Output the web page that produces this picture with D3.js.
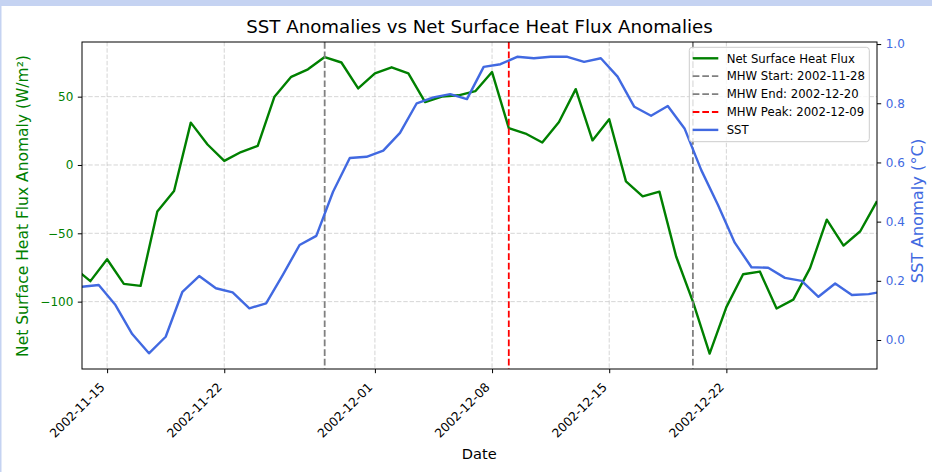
<!DOCTYPE html>
<html><head><meta charset="utf-8">
<script src="https://cdn.jsdelivr.net/npm/d3@7"></script>
<style>
body{margin:0;background:#fff}
svg{display:block;font-family:"DejaVu Sans",sans-serif}
</style>
</head><body><svg id="chart" width="932" height="472"></svg>
<script>
// ---------------- data ----------------
const fluxStart = "2002-11-13T00";        // daily values, midnight
const fluxValues = [-75, -85, -69, -87, -88.5, -34, -19, 31, 15, 3, 9.5, 14, 50, 64.5, 70, 79,
  75, 56, 67, 71.5, 67, 46, 50, 51, 54, 68, 27, 23, 16.5, 31.5, 55.5, 18, 33.5,
  -12, -23, -19.5, -67, -100, -138, -104, -80, -78, -105, -98.5, -75.5, -40, -59, -48.5, -26.5];
const sstStart = "2002-11-13T12";         // daily values, noon
const sstValues = [0.180, 0.186, 0.118, 0.020, -0.045, 0.011, 0.163, 0.216, 0.175, 0.161, 0.107,
  0.124, 0.220, 0.321, 0.352, 0.501, 0.615, 0.619, 0.640, 0.700, 0.800, 0.820, 0.831, 0.814,
  0.923, 0.932, 0.957, 0.952, 0.957, 0.957, 0.940, 0.952, 0.890, 0.788, 0.758, 0.791, 0.715,
  0.574, 0.456, 0.329, 0.246, 0.244, 0.210, 0.200, 0.146, 0.191, 0.152, 0.155, 0.165];
const xTickLabels = ["2002-11-15", "2002-11-22", "2002-12-01", "2002-12-08", "2002-12-15", "2002-12-22"];
const fluxTicks = [-100, -50, 0, 50];
const sstTicks = [0.0, 0.2, 0.4, 0.6, 0.8, 1.0];
const eventLabels = ["MHW Start: 2002-11-28", "MHW End: 2002-12-20", "MHW Peak: 2002-12-09"];
const eventDates = ["2002-11-28", "2002-12-20", "2002-12-09"];
const xDomain = ["2002-11-13T12", "2002-12-31T00"];
const fluxDomain = [-149.3, 90.0];
const sstDomain = [-0.098, 1.007];

// ---------------- helpers ----------------
function parse(s) {
  const [d, t] = s.split("T");
  const [Y, M, D] = d.split("-").map(Number);
  return new Date(Date.UTC(Y, M - 1, D, t ? +t : 0));
}
const fluxData = fluxValues.map((v, i) => ({ date: d3.utcDay.offset(parse(fluxStart), i), v }));
const sstData = sstValues.map((v, i) => ({ date: d3.utcDay.offset(parse(sstStart), i), v }));

const W = 932, H = 472;
const m = { left: 82, right: 877, top: 42, bottom: 369 };
const svg = d3.select("#chart");

const GREEN = "#008000", BLUE = "#4169e1";
const eventColors = ["#808080", "#808080", "#ff0000"];

// background & frame from screenshot
svg.append("rect").attr("width", W).attr("height", H).attr("fill", "#fff");
svg.append("rect").attr("width", W).attr("height", 6).attr("fill", "#c5d3f2");
svg.append("rect").attr("width", 1.5).attr("height", H).attr("fill", "#c5d3f2");

const x = d3.scaleUtc().domain(xDomain.map(parse)).range([m.left, m.right]);
const yL = d3.scaleLinear().domain(fluxDomain).range([m.bottom, m.top]);
const yR = d3.scaleLinear().domain(sstDomain).range([m.bottom, m.top]);

svg.append("defs").append("clipPath").attr("id", "clip")
  .append("rect").attr("x", m.left).attr("y", m.top)
  .attr("width", m.right - m.left).attr("height", m.bottom - m.top);

// grid
const grid = svg.append("g").attr("stroke", "#b0b0b0").attr("stroke-opacity", 0.6)
  .attr("stroke-width", 0.9).attr("stroke-dasharray", "4.4,1.9");
grid.selectAll("line.v").data(xTickLabels.map(parse)).join("line")
  .attr("x1", d => x(d)).attr("x2", d => x(d)).attr("y1", m.top).attr("y2", m.bottom);
grid.selectAll("line.h").data(fluxTicks).join("line")
  .attr("x1", m.left).attr("x2", m.right).attr("y1", d => yL(d)).attr("y2", d => yL(d));

const plot = svg.append("g").attr("clip-path", "url(#clip)");

// flux line
plot.append("path").datum(fluxData)
  .attr("fill", "none").attr("stroke", GREEN).attr("stroke-width", 2.4)
  .attr("stroke-linejoin", "round")
  .attr("d", d3.line().x(d => x(d.date)).y(d => yL(d.v)));

// event lines
eventDates.forEach((d, i) => {
  plot.append("line")
    .attr("x1", x(parse(d))).attr("x2", x(parse(d)))
    .attr("y1", m.top).attr("y2", m.bottom)
    .attr("stroke", eventColors[i]).attr("stroke-width", 1.8)
    .attr("stroke-dasharray", "6.7,2.9");
});

// sst line
plot.append("path").datum(sstData)
  .attr("fill", "none").attr("stroke", BLUE).attr("stroke-width", 2.4)
  .attr("stroke-linejoin", "round")
  .attr("d", d3.line().x(d => x(d.date)).y(d => yR(d.v)));

// frame
svg.append("rect").attr("x", m.left).attr("y", m.top)
  .attr("width", m.right - m.left).attr("height", m.bottom - m.top)
  .attr("fill", "none").attr("stroke", "#000").attr("stroke-width", 1);

// axes
const xAxis = svg.append("g").attr("transform", `translate(0,${m.bottom})`)
  .call(d3.axisBottom(x).tickValues(xTickLabels.map(parse))
    .tickFormat(d3.utcFormat("%Y-%m-%d")).tickSize(4.2).tickSizeOuter(0));
xAxis.select(".domain").remove();
xAxis.selectAll("text")
  .attr("font-size", 12.3).attr("font-family", "DejaVu Sans").attr("fill", "#000")
  .attr("text-anchor", "end").attr("x", 0).attr("y", 0).attr("dy", 0)
  .attr("transform", "translate(-2,19) rotate(-45)");

const yAxisL = svg.append("g").attr("transform", `translate(${m.left},0)`)
  .call(d3.axisLeft(yL).tickValues(fluxTicks).tickSize(4.2).tickPadding(4.5).tickSizeOuter(0));
yAxisL.select(".domain").remove();
yAxisL.selectAll("text").attr("font-size", 12).attr("font-family", "DejaVu Sans").attr("fill", GREEN);

const yAxisR = svg.append("g").attr("transform", `translate(${m.right},0)`)
  .call(d3.axisRight(yR).tickValues(sstTicks).tickFormat(d3.format(".1f"))
    .tickSize(4.2).tickPadding(4.5).tickSizeOuter(0));
yAxisR.select(".domain").remove();
yAxisR.selectAll("text").attr("font-size", 12).attr("font-family", "DejaVu Sans").attr("fill", BLUE);

// labels
svg.append("text").attr("x", (m.left + m.right) / 2).attr("y", 33)
  .attr("text-anchor", "middle").attr("font-size", 18.2).attr("fill", "#000")
  .text("SST Anomalies vs Net Surface Heat Flux Anomalies");
svg.append("text").attr("x", 479.2).attr("y", 459)
  .attr("text-anchor", "middle").attr("font-size", 14.6).attr("fill", "#000").text("Date");
svg.append("text").attr("transform", "translate(28.3,206) rotate(-90)")
  .attr("text-anchor", "middle").attr("font-size", 15.5).attr("fill", GREEN)
  .text("Net Surface Heat Flux Anomaly (W/m²)");
svg.append("text").attr("transform", "translate(923,211) rotate(-90)")
  .attr("text-anchor", "middle").attr("font-size", 16.3).attr("fill", BLUE)
  .text("SST Anomaly (°C)");

// legend
const legendItems = [
  { label: "Net Surface Heat Flux", color: GREEN, dash: null },
  { label: eventLabels[0], color: eventColors[0], dash: "6.7,2.9" },
  { label: eventLabels[1], color: eventColors[1], dash: "6.7,2.9" },
  { label: eventLabels[2], color: eventColors[2], dash: "6.7,2.9" },
  { label: "SST", color: BLUE, dash: null }
];
const lg = svg.append("g").attr("transform", "translate(689.3,47.3)");
lg.append("rect").attr("width", 180).attr("height", 94.4).attr("rx", 3)
  .attr("fill", "#fff").attr("fill-opacity", 0.8).attr("stroke", "#cccccc").attr("stroke-width", 1);
legendItems.forEach((it, i) => {
  const yy = 11 + i * 17.9;
  lg.append("line").attr("x1", 3.4).attr("x2", 29).attr("y1", yy).attr("y2", yy)
    .attr("stroke", it.color).attr("stroke-width", it.dash ? 1.8 : 2.4)
    .attr("stroke-dasharray", it.dash);
  lg.append("text").attr("x", 37.4).attr("y", yy).attr("dy", "0.36em")
    .attr("font-size", 11.7).attr("fill", "#000").text(it.label);
});
</script>
</body></html>
